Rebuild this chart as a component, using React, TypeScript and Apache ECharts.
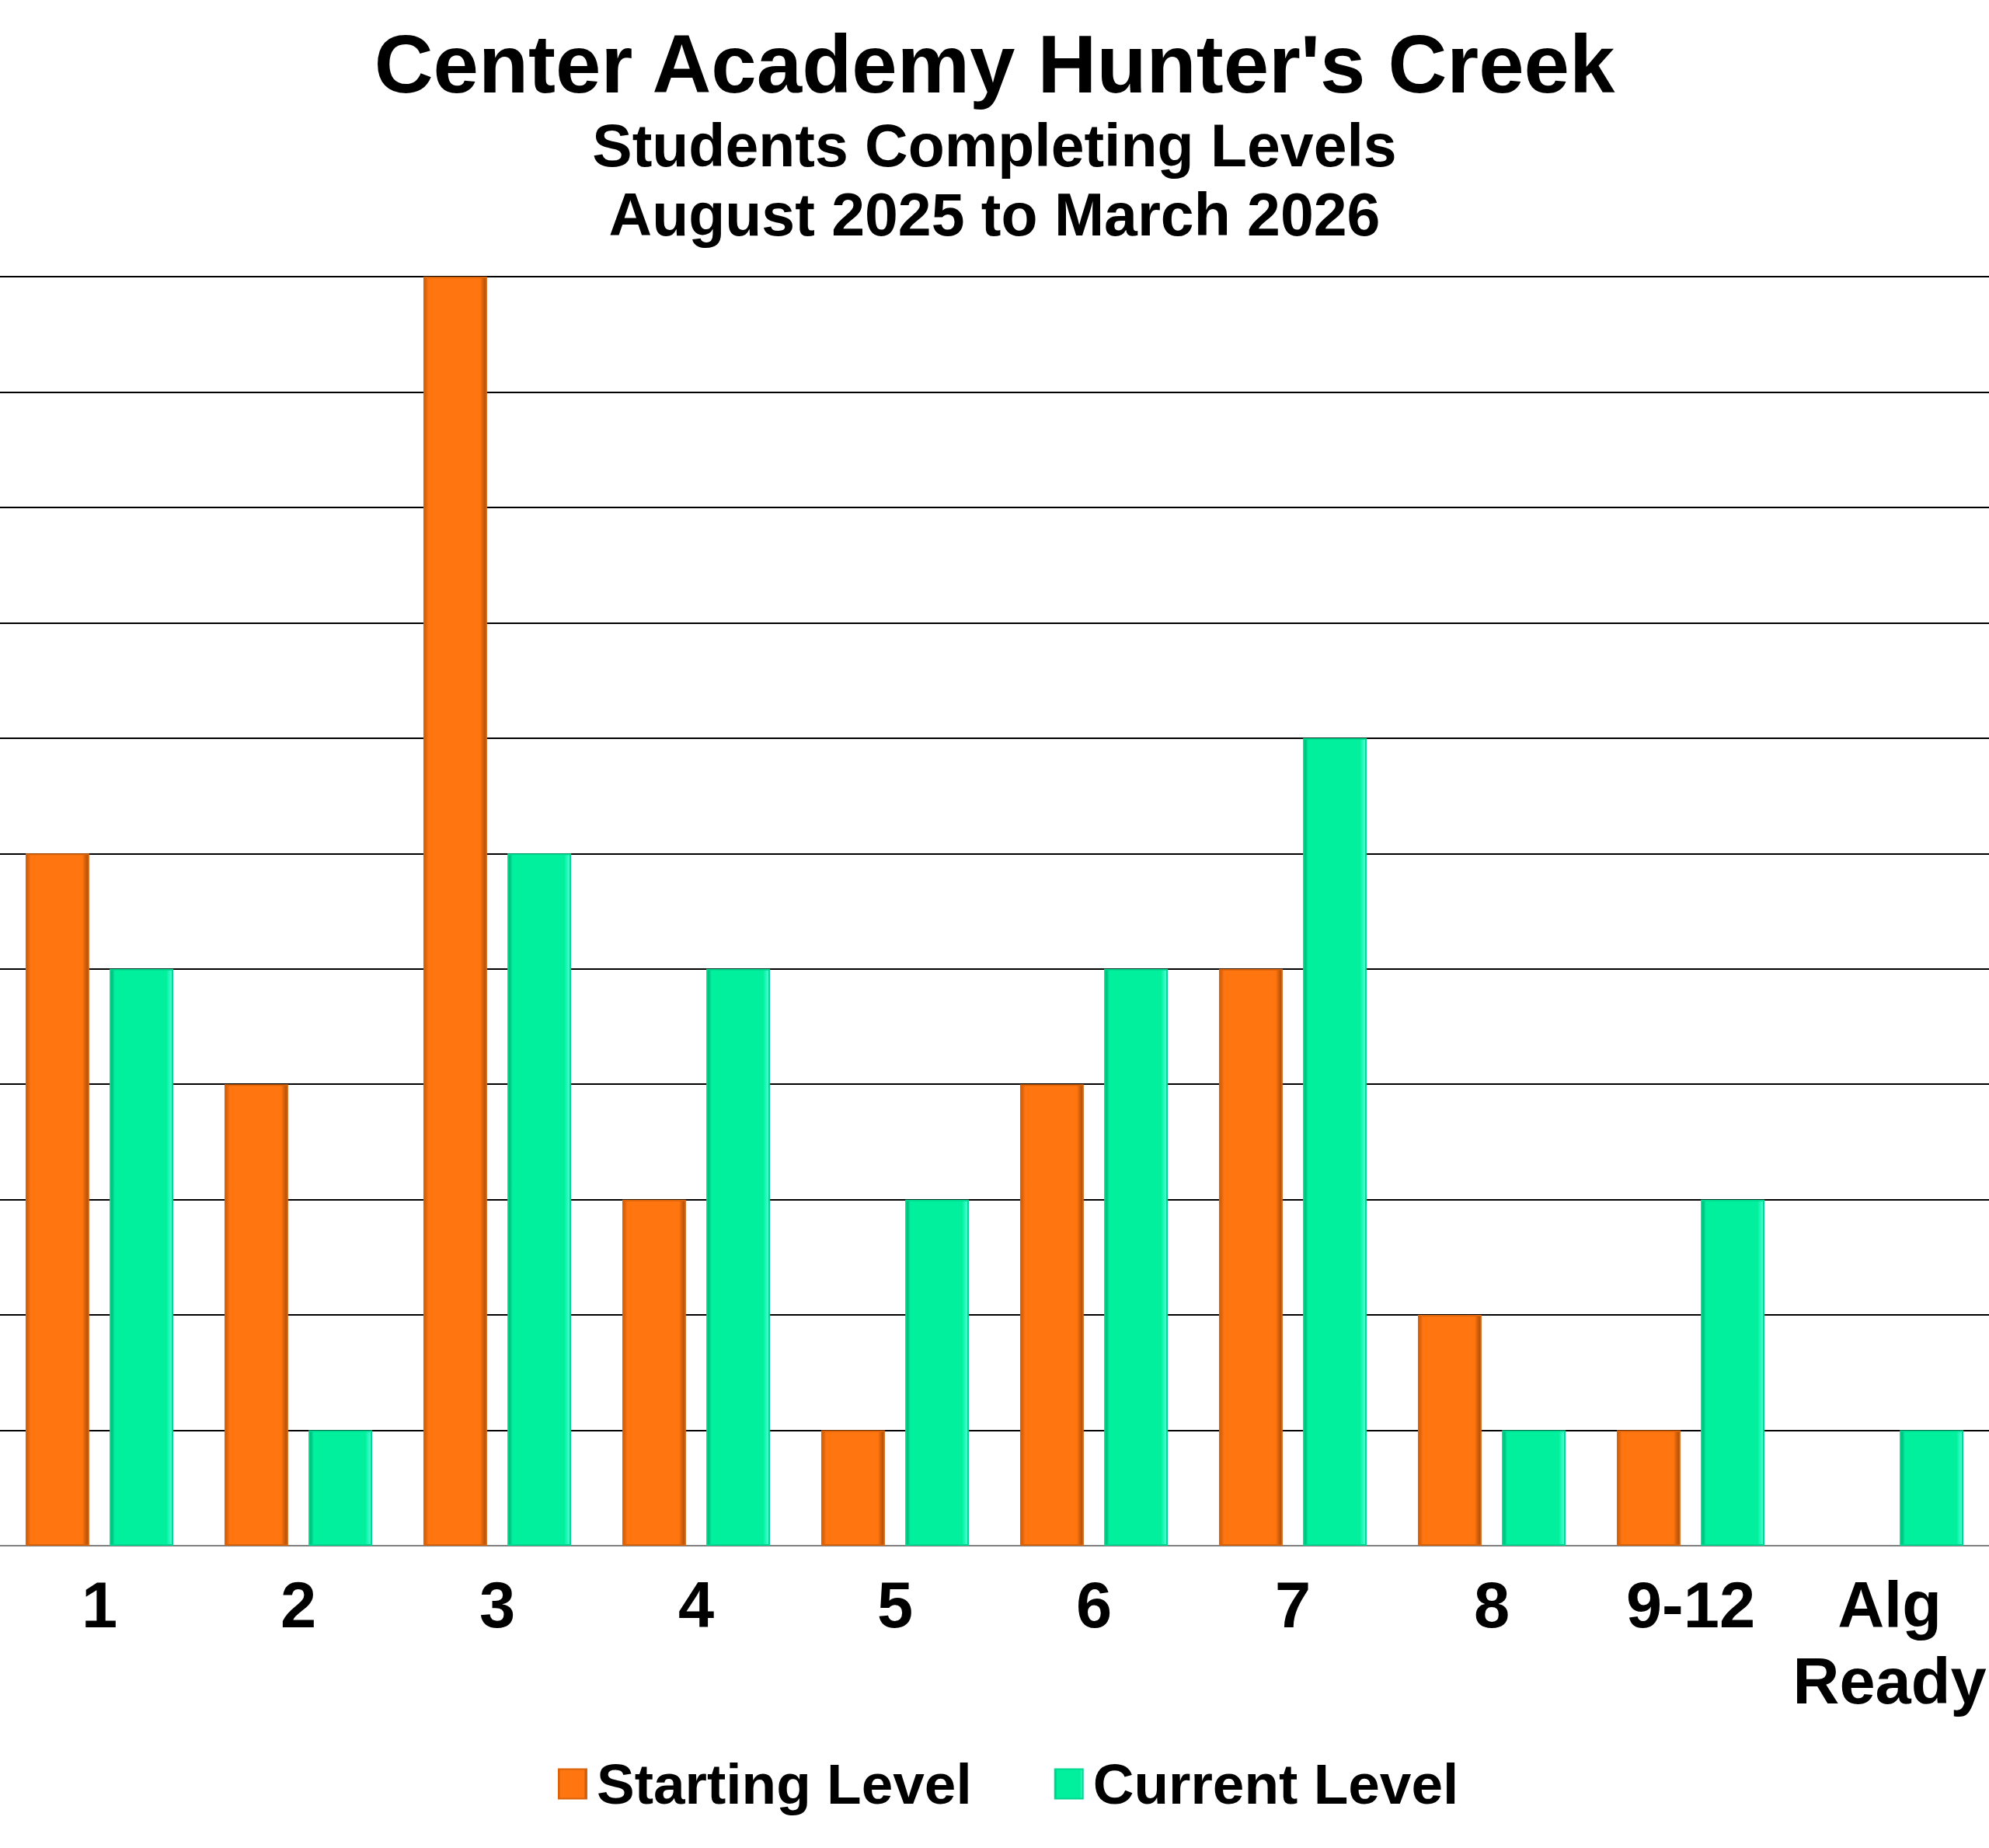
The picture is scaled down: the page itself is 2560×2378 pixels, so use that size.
import React, { useEffect, useRef } from "react";
import * as echarts from "echarts";

const categories = ["1", "2", "3", "4", "5", "6", "7", "8", "9-12", "Alg\nReady"];
const startingLevel = [6, 4, 11, 3, 1, 4, 5, 2, 1, 0];
const currentLevel = [5, 1, 6, 5, 3, 5, 7, 1, 3, 1];
const seriesNames = ["Starting Level", "Current Level"];
const titleText = "Center Academy Hunter's Creek";
const subtitleText = "Students Completing Levels\nAugust 2025 to March 2026";

const FONT = "'Liberation Sans', Arial, Helvetica, sans-serif";

const toData = (arr: number[]) =>
  arr.map((v) => (v === 0 ? { value: v, itemStyle: { borderWidth: 0, opacity: 0 } } : v));

export default function App() {
  const ref = useRef<HTMLDivElement>(null);
  useEffect(() => {
    document.body.style.margin = "0";
    if (!ref.current) return;
    const chart = echarts.init(ref.current, undefined, { renderer: "svg" });
    const orange = new echarts.graphic.LinearGradient(0, 0, 1, 0, [
      { offset: 0, color: "#C85A08" },
      { offset: 0.07, color: "#FF7510" },
      { offset: 0.9, color: "#FF7510" },
      { offset: 1, color: "#A84A05" },
    ]);
    const green = new echarts.graphic.LinearGradient(0, 0, 1, 0, [
      { offset: 0, color: "#00A070" },
      { offset: 0.07, color: "#00F09E" },
      { offset: 0.9, color: "#00F09E" },
      { offset: 1, color: "#50FFD8" },
    ]);
    chart.setOption({
      animation: false,
      backgroundColor: "#ffffff",
      title: [
        {
          text: titleText,
          left: "center",
          top: 22,
          textStyle: { fontFamily: FONT, fontWeight: "bold", fontSize: 105, lineHeight: 110, color: "#000" },
        },
        {
          text: subtitleText,
          left: "center",
          top: 137,
          textStyle: { fontFamily: FONT, fontWeight: "bold", fontSize: 77, lineHeight: 89, color: "#000" },
        },
      ],
      legend: {
        data: seriesNames,
        icon: "rect",
        left: 713,
        top: 2254,
        itemWidth: 36,
        itemHeight: 38,
        itemGap: 106,
        textStyle: { fontFamily: FONT, fontWeight: "bold", fontSize: 73, color: "#000", padding: [0, 0, 0, 8] },
      },
      grid: { left: 0, right: 0, top: 356, bottom: 389, containLabel: false },
      xAxis: {
        type: "category",
        data: categories,
        axisLine: { show: true, lineStyle: { color: "#808080", width: 2 } },
        axisTick: { show: false },
        axisLabel: {
          fontFamily: FONT,
          fontWeight: "bold",
          fontSize: 83,
          lineHeight: 98,
          color: "#000",
          margin: 27,
          interval: 0,
        },
      },
      yAxis: {
        type: "value",
        min: 0,
        max: 11,
        interval: 1,
        axisLabel: { show: false },
        axisLine: { show: false },
        axisTick: { show: false },
        splitLine: { show: true, lineStyle: { color: "#000", width: 2 } },
      },
      series: [
        {
          name: seriesNames[0],
          type: "bar",
          data: toData(startingLevel),
          barWidth: "32%",
          barGap: "32%",
          itemStyle: { color: orange, borderColor: "#D9630A", borderWidth: 2 },
        },
        {
          name: seriesNames[1],
          type: "bar",
          data: toData(currentLevel),
          barWidth: "32%",
          barGap: "32%",
          itemStyle: { color: green, borderColor: "#00D890", borderWidth: 2 },
        },
      ],
    });
    return () => chart.dispose();
  }, []);
  return <div ref={ref} style={{ width: 2560, height: 2378 }} />;
}
